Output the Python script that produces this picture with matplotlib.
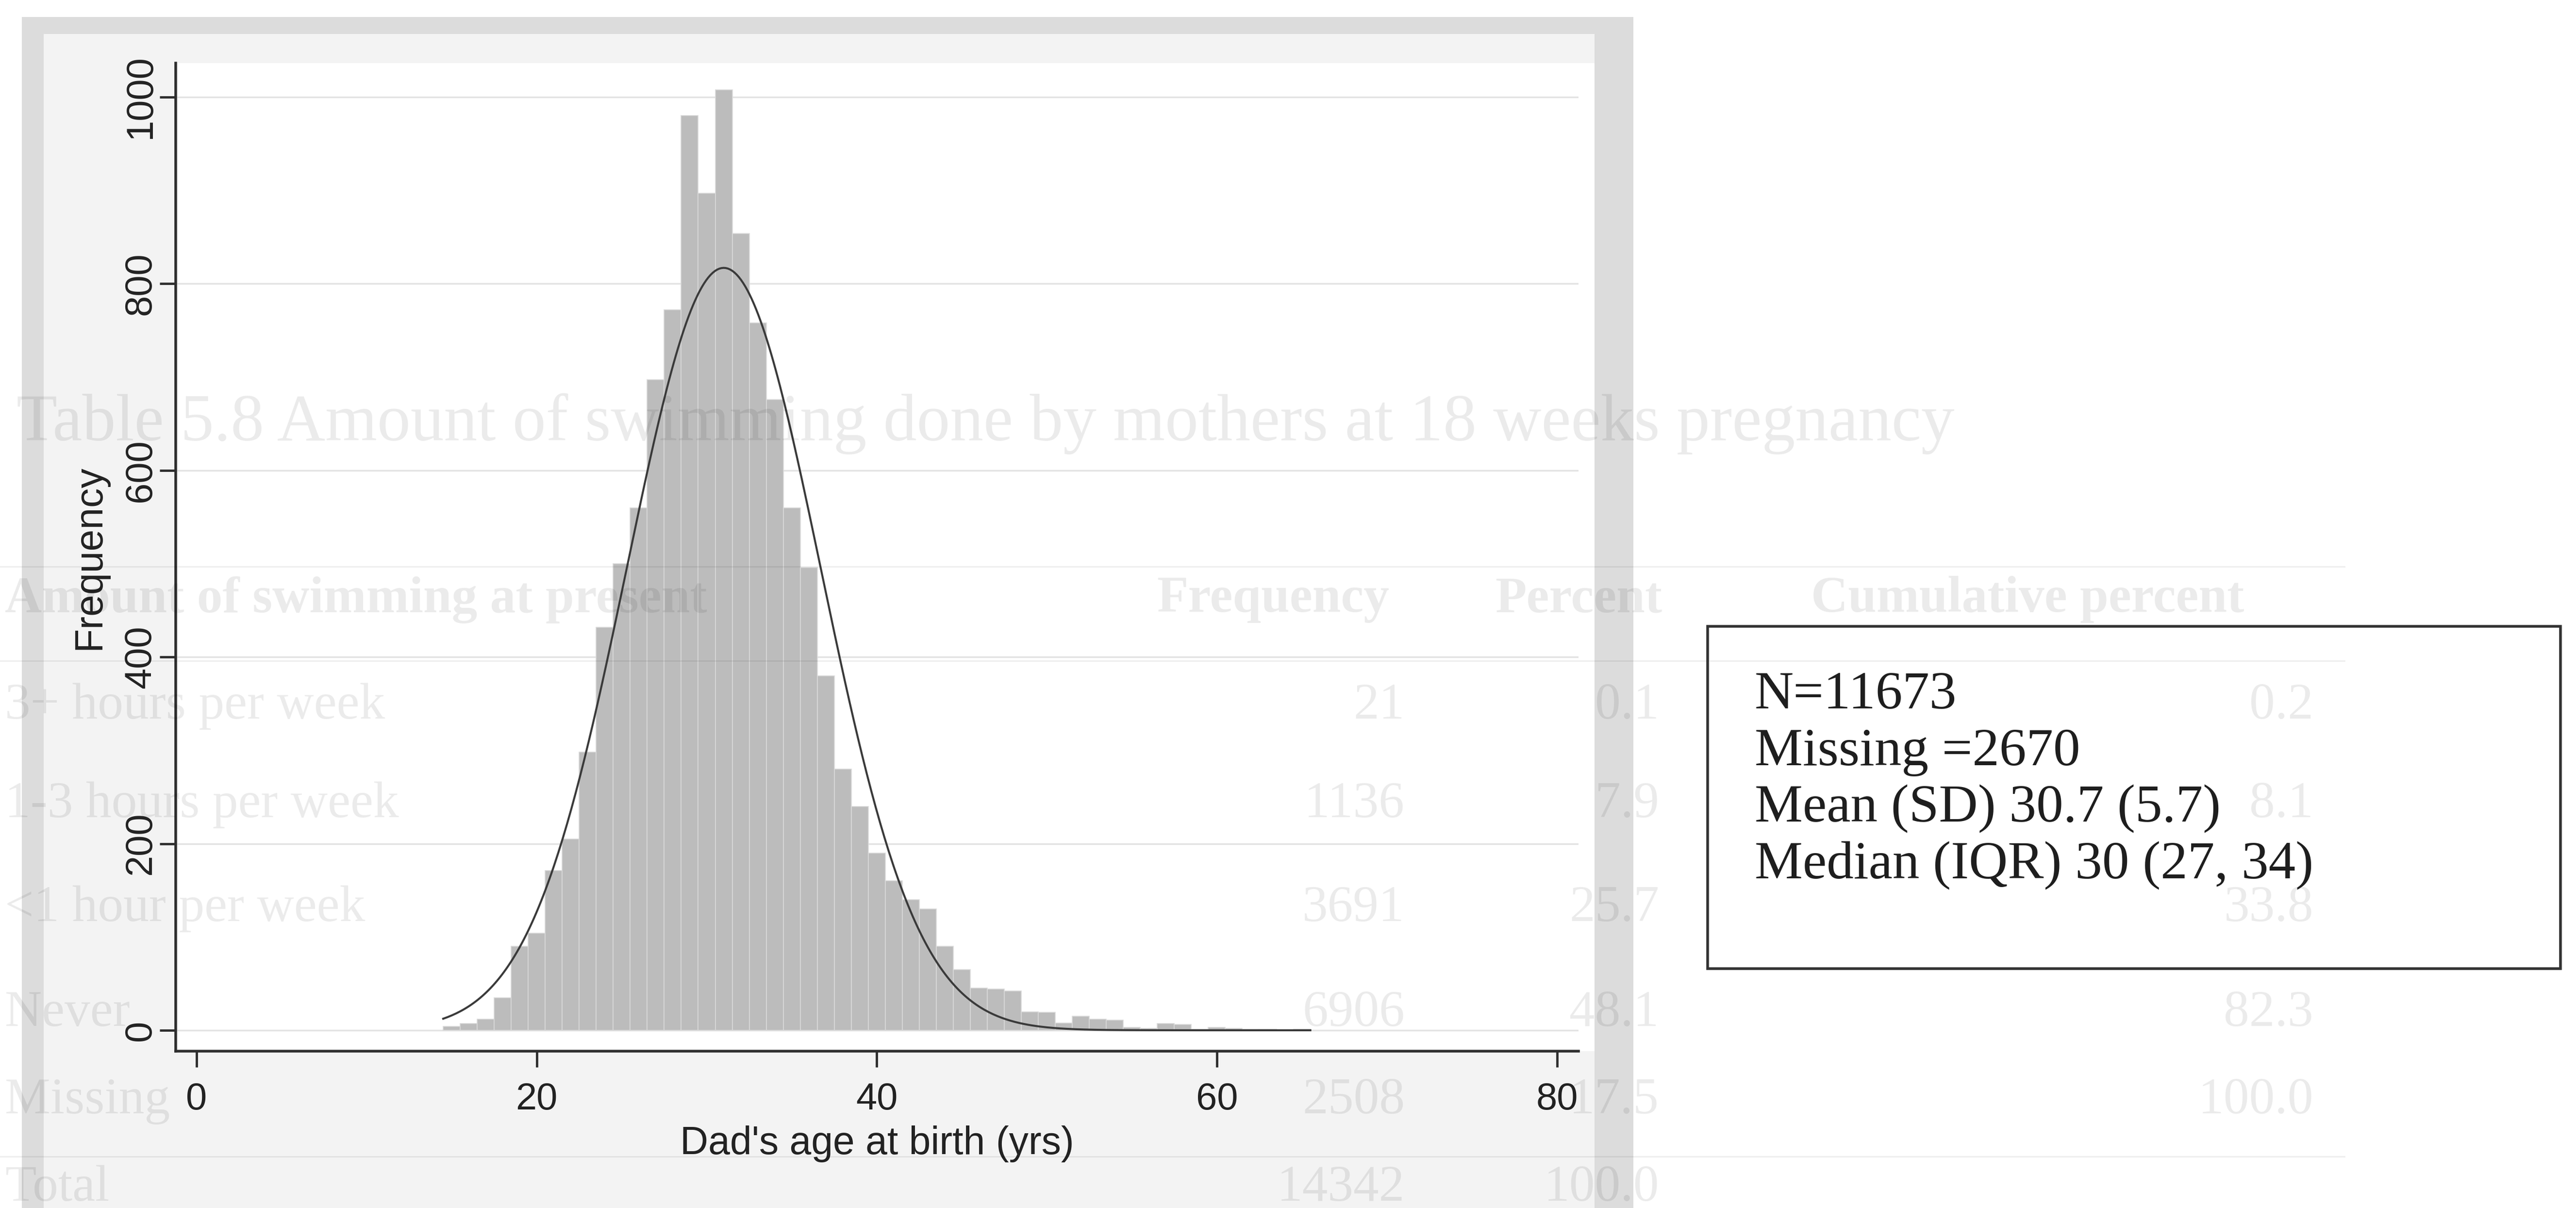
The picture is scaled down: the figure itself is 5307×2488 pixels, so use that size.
import numpy as np
import matplotlib
matplotlib.use("Agg")
import matplotlib.pyplot as plt
from matplotlib.patches import Rectangle
from matplotlib.lines import Line2D

# histogram of dad's age at birth (1-year bins)
ages = list(range(15, 66))
counts = [4, 7, 12, 35, 90, 104, 171, 205, 298, 432,
          500, 560, 697, 772, 980, 897, 1008, 854, 758, 676,
          560, 496, 380, 280, 240, 190, 160, 140, 130, 90,
          65, 45, 44, 42, 20, 19, 8, 15, 12, 11,
          3, 2, 7, 6, 1, 3, 2, 1, 1, 0, 1]

# normal curve
n_obs = 11673
fit_mean = 31.0
fit_sd = 5.7
curve_range = [14.5, 65.5]

xticks = [0, 20, 40, 60, 80]
yticks = [0, 200, 400, 600, 800, 1000]

stats_lines = ["N=11673", "Missing =2670", "Mean (SD) 30.7 (5.7)",
               "Median (IQR) 30 (27, 34)"]

# faint table showing through the page
table_title = "Table 5.8 Amount of swimming done by mothers at 18 weeks pregnancy"
table_header = ["Amount of swimming at present", "Frequency", "Percent",
                "Cumulative percent"]
row_labels = ["3+ hours per week", "1-3 hours per week", "<1 hour per week",
              "Never", "Missing", "Total"]
row_freq = ["21", "1136", "3691", "6906", "2508", "14342"]
row_pct = ["0.1", "7.9", "25.7", "48.1", "17.5", "100.0"]
row_cum = ["0.2", "8.1", "33.8", "82.3", "100.0", ""]

W, H = 5307, 2488


def fx(px):
    return px / W


def fy(py):
    return 1 - py / H


fig = plt.figure(figsize=(W / 100, H / 100), dpi=100)
fig.patch.set_facecolor("white")

# scanned graph region
fig.patches.append(Rectangle((fx(45), fy(2500)), fx(3365) - fx(45), fy(35) - fy(2500),
                             transform=fig.transFigure, facecolor="#dcdcdc",
                             edgecolor="none", zorder=-3))
fig.patches.append(Rectangle((fx(90), fy(2500)), fx(3285) - fx(90), fy(70) - fy(2500),
                             transform=fig.transFigure, facecolor="#f3f3f3",
                             edgecolor="none", zorder=-2))
fig.patches.append(Rectangle((fx(362), fy(2165)), fx(3285) - fx(362), fy(130) - fy(2165),
                             transform=fig.transFigure, facecolor="white",
                             edgecolor="none", zorder=-1))

ax = fig.add_axes([fx(362), fy(2165), fx(3252) - fx(362), fy(130) - fy(2165)])
ax.set_facecolor("white")

ax.bar(ages, counts, width=1.0, color="#bcbcbc", edgecolor="#d9d9d9",
       linewidth=1.2, zorder=2)

xs = np.linspace(curve_range[0], curve_range[1], 400)
ys = n_obs * np.exp(-0.5 * ((xs - fit_mean) / fit_sd) ** 2) / (fit_sd * np.sqrt(2 * np.pi))
ax.plot(xs, ys, color="#3a3a3a", lw=3, zorder=3)

ax.set_xlim(-1.23, 81.27)
ax.set_ylim(-22.4, 1036.4)
ax.set_xticks(xticks)
ax.set_xticklabels([str(t) for t in xticks])
ax.set_yticks(yticks)
ax.set_yticklabels([str(t) for t in yticks], rotation=90, va="center")

ax.set_axisbelow(True)
ax.yaxis.grid(True, color="#e3e3e3", lw=2.5)

for s in ["top", "right"]:
    ax.spines[s].set_visible(False)
for s in ["left", "bottom"]:
    ax.spines[s].set_color("#2e2e2e")
    ax.spines[s].set_linewidth(4)

ax.tick_params(axis="both", direction="out", length=24, width=3.5,
               color="#2e2e2e", labelsize=56, labelcolor="#222222")
ax.tick_params(axis="x", pad=21)
ax.tick_params(axis="y", pad=2)
for lbl in ax.get_xticklabels() + ax.get_yticklabels():
    lbl.set_family("Liberation Sans")

ax.set_xlabel("Dad's age at birth (yrs)", fontsize=58, family="Liberation Sans",
              color="#222222", va="center")
ax.xaxis.set_label_coords(0.5, -0.0939)
ax.set_ylabel("Frequency", fontsize=58, family="Liberation Sans",
              color="#222222", va="center")
ax.yaxis.set_label_coords(-0.0616, 0.5)

# stats box
fig.patches.append(Rectangle((fx(3518), fy(1995)), fx(5275) - fx(3518), fy(1290) - fy(1995),
                             transform=fig.transFigure, fill=False,
                             edgecolor="#333333", linewidth=4, zorder=6))
for i, line in enumerate(stats_lines):
    fig.text(fx(3615), fy(1432 + 117 * i), line, fontsize=80,
             family="Liberation Serif", color="#1e1e1e", va="center", ha="left",
             zorder=7)

# ghost table
ghost = dict(color="k", alpha=0.08, family="Liberation Serif", zorder=5)
fig.text(fx(34), fy(873), table_title, fontsize=99, va="center", ha="left", **ghost)
fig.text(fx(10), fy(1235), table_header[0], fontsize=76, weight="bold",
         va="center", ha="left", **ghost)
fig.text(fx(2623), fy(1235), table_header[1], fontsize=76, weight="bold",
         va="center", ha="center", **ghost)
fig.text(fx(3252), fy(1235), table_header[2], fontsize=76, weight="bold",
         va="center", ha="center", **ghost)
fig.text(fx(4177), fy(1235), table_header[3], fontsize=76, weight="bold",
         va="center", ha="center", **ghost)
row_y = [1455, 1658, 1872, 2088, 2268, 2448]
for i in range(len(row_labels)):
    fig.text(fx(10), fy(row_y[i]), row_labels[i], fontsize=76, va="center", ha="left", **ghost)
    fig.text(fx(2894), fy(row_y[i]), row_freq[i], fontsize=76, va="center", ha="right", **ghost)
    fig.text(fx(3418), fy(row_y[i]), row_pct[i], fontsize=76, va="center", ha="right", **ghost)
    if row_cum[i]:
        fig.text(fx(4766), fy(row_y[i]), row_cum[i], fontsize=76, va="center", ha="right", **ghost)
for py in [1167, 1361, 2382]:
    fig.lines.append(Line2D([fx(0), fx(4830)], [fy(py), fy(py)], transform=fig.transFigure,
                            color="k", alpha=0.07, lw=2, zorder=5))

fig.savefig("out.png", dpi=100)
